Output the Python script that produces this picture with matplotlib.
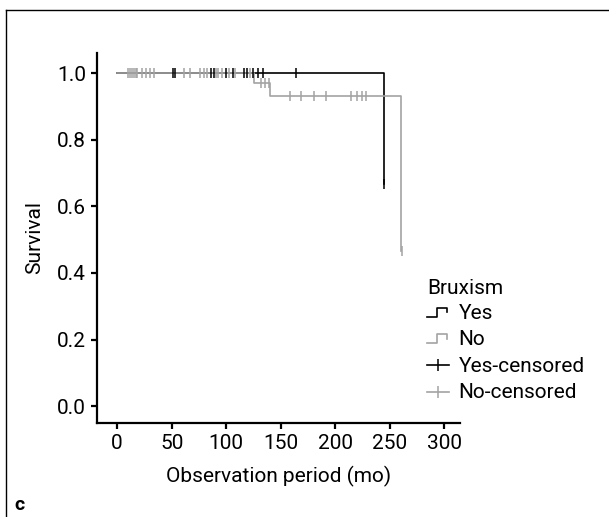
import matplotlib
matplotlib.use("Agg")
import matplotlib.pyplot as plt
from matplotlib.lines import Line2D
from matplotlib.legend_handler import HandlerBase
import numpy as np

plt.rcParams['font.family'] = ['Roboto', 'Liberation Sans', 'DejaVu Sans']

# Kaplan-Meier step data
yes_times = [0, 245, 245]
yes_surv = [1.0, 1.0, 0.667]
no_times = [0, 125.5, 140.5, 260, 260]
no_surv = [1.0, 0.970, 0.931, 0.931, 0.466]

# censored observations (time, survival)
yes_cens_t = [51.3, 53.1, 86.2, 89.2, 99.4, 106.5, 116.2, 118.7, 124.2, 129.4, 134.0, 164.1, 245]
yes_cens_s = [1.0, 1.0, 1.0, 1.0, 1.0, 1.0, 1.0, 1.0, 1.0, 1.0, 1.0, 1.0, 0.667]
no_cens_t = [9.5, 11.4, 13.2, 15.1, 16.9, 18.2, 22.8, 26.7, 29.8, 33.4, 61.0, 66.5,
             76.3, 79.4, 82.5, 91.1, 92.9, 96.3, 102.4, 108.3, 121.8,
             131.6, 135.6, 139.3,
             159, 169, 181, 191.5, 214.4, 220, 224.3, 228.2, 261]
no_cens_s = [1.0] * 21 + [0.970] * 3 + [0.931] * 8 + [0.466]

x_ticks = [0, 50, 100, 150, 200, 250, 300]
y_ticks = [0.0, 0.2, 0.4, 0.6, 0.8, 1.0]

BLACK = "#000000"
GREY = "#a3a3a3"
FS = 15

fig = plt.figure(figsize=(6.09, 5.17), dpi=100)
ax = fig.add_axes([97/609, 1-423/517, (460-97)/609, (423-53)/517])

ax.step(yes_times, yes_surv, where='post', color=BLACK, lw=1.2, zorder=2)
ax.step(no_times, no_surv, where='post', color=GREY, lw=1.2, zorder=3)
ax.plot(yes_cens_t, yes_cens_s, linestyle='none', marker='|', ms=7, mew=1.1, color=BLACK, zorder=4)
ax.plot(no_cens_t, no_cens_s, linestyle='none', marker='|', ms=7, mew=1.1, color=GREY, zorder=4)

ax.set_xlim(-18.5, 314.5)
ax.set_ylim(-0.05, 1.06)
ax.set_xticks(x_ticks)
ax.set_xticklabels([str(v) for v in x_ticks])
ax.set_yticks(y_ticks)
ax.set_yticklabels([f"{v:.1f}" for v in y_ticks])
for sp in ['top', 'right']:
    ax.spines[sp].set_visible(False)
for sp in ['left', 'bottom']:
    ax.spines[sp].set_linewidth(1.6)
ax.tick_params(direction='out', length=4, width=1.6, labelsize=FS, colors='black', pad=4)
ax.set_xlabel("Observation period (mo)", fontsize=FS, labelpad=9)
ax.set_ylabel("Survival", fontsize=FS, labelpad=9)


class StepHandler(HandlerBase):
    def __init__(self, color):
        super().__init__()
        self.color = color

    def create_artists(self, legend, orig_handle, xdescent, ydescent, width, height, fontsize, trans):
        x0 = -xdescent
        y0 = -ydescent
        xs = [x0, x0 + width * 0.45, x0 + width * 0.45, x0 + width * 0.9, x0 + width * 0.9]
        ys = [y0 + height * 0.15, y0 + height * 0.15, y0 + height * 0.75, y0 + height * 0.75, y0 + height * 0.45]
        ln = Line2D(xs, ys, color=self.color, lw=1.2, transform=trans)
        return [ln]


class CensHandler(HandlerBase):
    def __init__(self, color):
        super().__init__()
        self.color = color

    def create_artists(self, legend, orig_handle, xdescent, ydescent, width, height, fontsize, trans):
        x0 = -xdescent
        y0 = -ydescent
        ym = y0 + height * 0.45
        ln = Line2D([x0, x0 + width], [ym, ym], color=self.color, lw=1.2, transform=trans)
        mk = Line2D([x0 + width / 2], [ym], marker='|', ms=9, mew=1.1, color=self.color,
                    linestyle='none', transform=trans)
        return [ln, mk]


h_yes = Line2D([], [], color=BLACK)
h_no = Line2D([], [], color=GREY)
h_yc = Line2D([], [], color=BLACK, marker='|')
h_nc = Line2D([], [], color=GREY, marker='|')
leg = fig.legend([h_yes, h_no, h_yc, h_nc], ["Yes", "No", "Yes-censored", "No-censored"],
                 handler_map={h_yes: StepHandler(BLACK), h_no: StepHandler(GREY),
                              h_yc: CensHandler(BLACK), h_nc: CensHandler(GREY)},
                 title="Bruxism", loc='upper left', bbox_to_anchor=(419/609, 1-271/517),
                 frameon=False, fontsize=FS, title_fontsize=FS, handlelength=1.05,
                 handletextpad=0.45, labelspacing=0.36, borderaxespad=0)
leg._legend_box.align = "left"
leg._legend_box.sep = 4

# figure border (left and top)
fig.add_artist(Line2D([6/609, 6/609], [0, 1-10/517], color='black', lw=1.0, transform=fig.transFigure))
fig.add_artist(Line2D([6/609, 1], [1-10/517, 1-10/517], color='black', lw=1.0, transform=fig.transFigure))

fig.text(14/609, 1-505/517, "c", fontsize=14, fontweight='bold', ha='left', va='center')

fig.savefig("out.png", dpi=100)
